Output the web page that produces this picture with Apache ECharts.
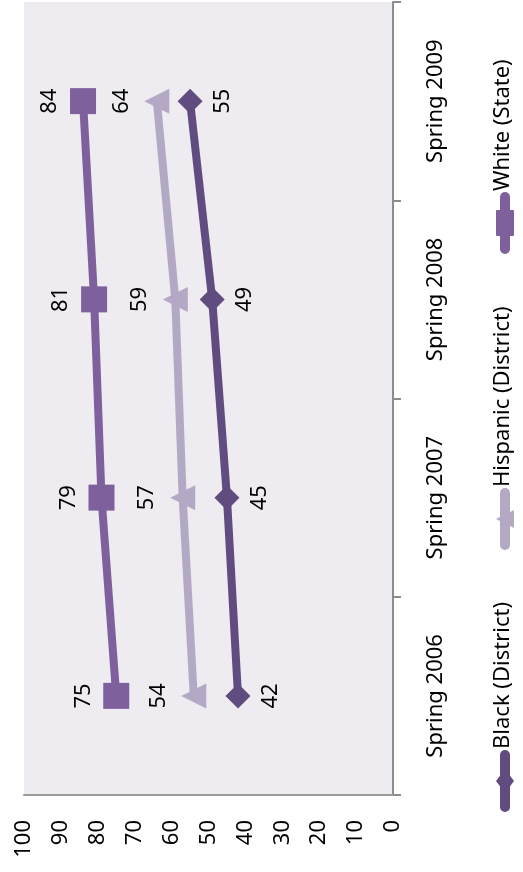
<!DOCTYPE html>
<html><head><meta charset="utf-8">
<script src="https://cdn.jsdelivr.net/npm/echarts@6/dist/echarts.min.js"></script>
<style>html,body{margin:0;padding:0;background:#fff;}#c{width:523px;height:872px;}</style>
</head><body><div id="c"></div>
<script>
var categories = ['Spring 2006', 'Spring 2007', 'Spring 2008', 'Spring 2009'];
var blackDistrict = [42, 45, 49, 55];
var hispanicDistrict = [54, 57, 59, 64];
var whiteState = [75, 79, 81, 84];
var seriesNames = ['Black (District)', 'Hispanic (District)', 'White (State)'];
var valueTicks = { min: 0, max: 100, interval: 10 };

var FONT = 'Noto Sans';
var cBlack = '#614c80', cHisp = '#b4a9c5', cWhite = '#7e609c';

var chart = echarts.init(document.getElementById('c'));
function mkSeries(name, data, color, symbol, size, rot, pos, dist) {
  return {
    name: name, type: 'line', data: data, symbol: symbol, symbolSize: size, symbolRotate: rot,
    lineStyle: { color: color, width: 8 }, itemStyle: { color: color },
    label: { show: true, position: pos, distance: dist, rotate: 90, align: 'center', verticalAlign: 'middle',
             fontFamily: FONT, fontSize: 22, color: '#000' },
    z: 3
  };
}
function legendItem(c, color, symbol, text) {
  var sym, X = 505;
  if (symbol === 'diamond') sym = { type: 'polygon', shape: { points: [[X, c - 12], [X + 9, c], [X, c + 12], [X - 9, c]] }, style: { fill: color } };
  else if (symbol === 'triangle') sym = { type: 'polygon', shape: { points: [[X - 9, c], [X + 9, c - 9], [X + 9, c + 9]] }, style: { fill: color } };
  else sym = { type: 'rect', shape: { x: X - 9, y: c - 13, width: 18, height: 26, r: 1 }, style: { fill: color } };
  return [
    { type: 'rect', shape: { x: X - 5, y: c - 31, width: 10, height: 62, r: 5 }, style: { fill: color } },
    sym,
    { type: 'text', x: 503, y: c - 32, rotation: Math.PI / 2,
      style: { text: text, fontFamily: FONT, fontSize: 22, fill: '#000', textAlign: 'left', textVerticalAlign: 'middle' } }
  ];
}
var graphics = [].concat(
  legendItem(781, cBlack, 'diamond', seriesNames[0]),
  legendItem(519, cHisp, 'triangle', seriesNames[1]),
  legendItem(223, cWhite, 'rect', seriesNames[2])
);
chart.setOption({
  animation: false,
  grid: { left: 24, right: 130, top: 2, bottom: 77, show: true, backgroundColor: '#eeebf1', borderWidth: 0 },
  xAxis: {
    type: 'value', inverse: true, position: 'bottom', min: valueTicks.min, max: valueTicks.max, interval: valueTicks.interval,
    axisLine: { show: true, lineStyle: { color: '#9a9a9a', width: 2 } },
    axisTick: { show: false }, splitLine: { show: false },
    axisLabel: { rotate: 90, margin: 25, fontFamily: FONT, fontSize: 22, color: '#000' }
  },
  yAxis: {
    type: 'category', position: 'right', data: categories, boundaryGap: true,
    axisLine: { show: true, lineStyle: { color: '#8c8c8c', width: 2 } },
    axisTick: { show: true, length: 8, lineStyle: { color: '#8c8c8c', width: 2 } },
    axisLabel: { rotate: 90, margin: 32, fontFamily: FONT, fontSize: 22, color: '#000' }
  },
  series: [
    mkSeries(seriesNames[0], blackDistrict, cBlack, 'diamond', [25, 25], 0, 'right', 20),
    mkSeries(seriesNames[1], hispanicDistrict, cHisp, 'triangle', [25, 25], 90, 'left', 23),
    mkSeries(seriesNames[2], whiteState, cWhite, 'rect', [26, 26], 0, 'left', 20)
  ],
  graphic: graphics
});
</script></body></html>
